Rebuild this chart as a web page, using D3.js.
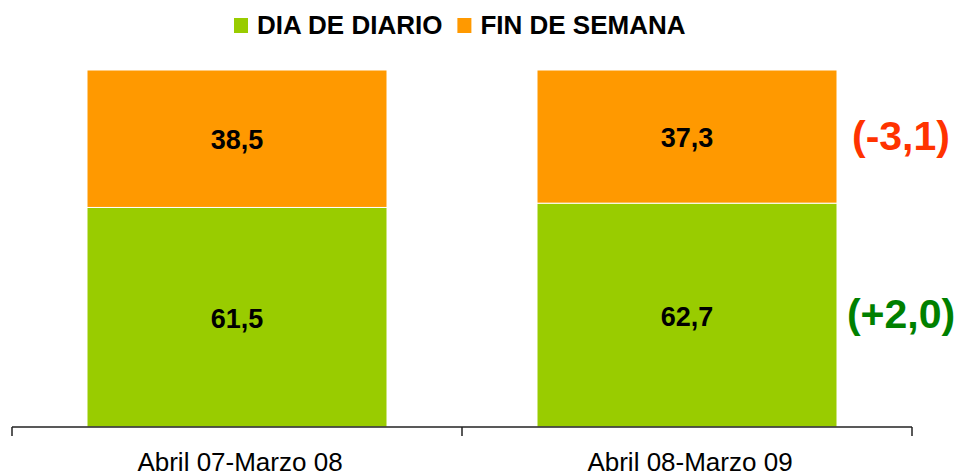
<!DOCTYPE html>
<html>
<head>
<meta charset="utf-8">
<script src="https://cdn.jsdelivr.net/npm/d3@7"></script>
<style>
	body { margin: 0; background: #fff; }
	svg { display: block; }
	text { font-family: "Liberation Sans", Arial, sans-serif; }
</style>
</head>
<body>
<svg id="chart"></svg>
<script>
// data
const periods = ["Abril 07-Marzo 08", "Abril 08-Marzo 09"];
const seriesNames = ["DIA DE DIARIO", "FIN DE SEMANA"];
const diaDeDiario = [61.5, 62.7];
const finDeSemana = [38.5, 37.3];
const deltas = [2.0, -3.1];   // change shown next to the last bar, same order as seriesNames

const width = 958, height = 474;
const colors = ["#99cc00", "#ff9900"];
const deltaColors = ["#008000", "#ff3300"];

const svg = d3.select("#chart").attr("width", width).attr("height", height);

const locale = d3.formatLocale({decimal: ",", thousands: ".", grouping: [3], currency: ["", ""], minus: "-"});
const fmt = locale.format(".1f");
const fmtDelta = locale.format("+.1f");

let rows = periods.map(function(p, i) {
	return {period: p, dia: diaDeDiario[i], fin: finDeSemana[i]};
});
let stack = d3.stack().keys(["dia", "fin"]);
let layers = stack(rows);

let x = d3.scaleBand()
	.domain(periods)
	.range([12, 912])
	.paddingInner(1 / 3)
	.paddingOuter(1 / 6);

let y = d3.scaleLinear()
	.domain([0, 100])
	.range([427, 70]);

// bars
let layer = svg.append("g").selectAll("g")
	.data(layers)
	.enter()
	.append("g")
	.attr("fill", function(d, i) { return colors[i]; });

layer.selectAll("rect")
	.data(function(d) { return d; })
	.enter()
	.append("rect")
	.attr("x", function(d) { return x(d.data.period); })
	.attr("width", x.bandwidth())
	.attr("y", function(d) { return y(d[1]); })
	.attr("height", function(d) { return y(d[0]) - y(d[1]); })
	.attr("stroke", "#fff")
	.attr("stroke-width", 1);

// value labels
layer.selectAll("text")
	.data(function(d) { return d; })
	.enter()
	.append("text")
	.attr("x", function(d) { return x(d.data.period) + x.bandwidth() / 2; })
	.attr("y", function(d) { return (y(d[0]) + y(d[1])) / 2 + 10.5; })
	.attr("text-anchor", "middle")
	.style("font-size", "27px")
	.style("font-weight", "bold")
	.style("fill", "#000")
	.text(function(d) { return fmt(d[1] - d[0]); });

// change annotations beside the last bar
let last = layers.map(function(l) { return l[l.length - 1]; });
svg.append("g").selectAll("text")
	.data(last)
	.enter()
	.append("text")
	.attr("x", x(periods[periods.length - 1]) + x.bandwidth() + 64)
	.attr("y", function(d) { return (y(d[0]) + y(d[1])) / 2 + 13; })
	.attr("text-anchor", "middle")
	.style("font-size", "41px")
	.style("font-weight", "bold")
	.style("fill", function(d, i) { return deltaColors[i]; })
	.text(function(d, i) { return "(" + fmtDelta(deltas[i]) + ")"; });

// category axis, ticks between categories
let axis = svg.append("g").attr("class", "x axis");
let r = x.range();
let edges = [r[0]].concat(periods.map(function(p) { return x(p) + x.bandwidth() + x.step() * x.paddingInner() / 2; }));
edges[edges.length - 1] = r[1];
axis.append("line")
	.attr("x1", r[0]).attr("x2", r[1])
	.attr("y1", y(0)).attr("y2", y(0))
	.attr("stroke", "#222").attr("stroke-width", 1.5);
axis.selectAll(".tick")
	.data(edges)
	.enter()
	.append("line")
	.attr("class", "tick")
	.attr("x1", function(d) { return d; }).attr("x2", function(d) { return d; })
	.attr("y1", y(0)).attr("y2", y(0) + 9)
	.attr("stroke", "#222").attr("stroke-width", 1.5);
axis.selectAll("text")
	.data(periods)
	.enter()
	.append("text")
	.attr("x", function(d) { return x(d) + x.bandwidth() / 2 + 3; })
	.attr("y", 471)
	.attr("text-anchor", "middle")
	.style("font-size", "26px")
	.style("fill", "#000")
	.text(function(d) { return d; });

// legend
let legend = svg.append("g").attr("class", "legend");
let lx = 234;
seriesNames.forEach(function(name, i) {
	legend.append("rect")
		.attr("x", lx).attr("y", 18)
		.attr("width", 14).attr("height", 15)
		.attr("fill", colors[i]);
	let t = legend.append("text")
		.attr("x", lx + 23)
		.attr("y", 34)
		.style("font-size", "26px")
		.style("font-weight", "bold")
		.style("fill", "#000")
		.text(name);
	lx += 23 + t.node().getComputedTextLength() + 15;
});
</script>
</body>
</html>
